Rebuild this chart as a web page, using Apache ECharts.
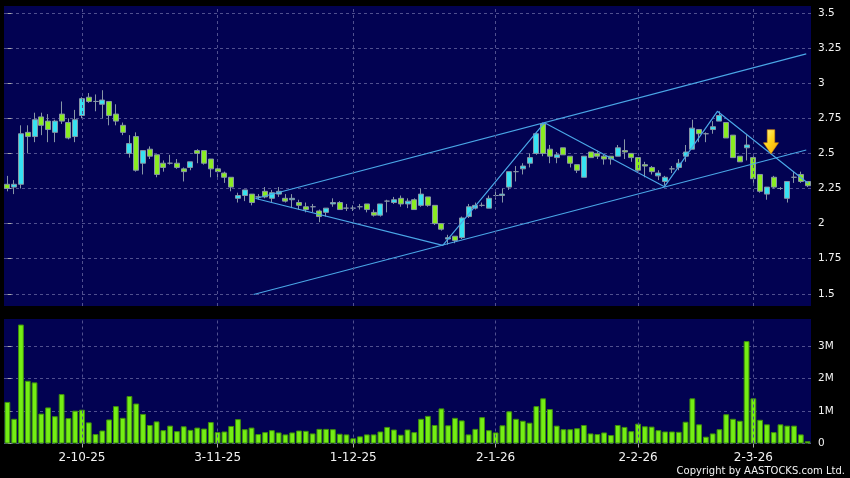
<!DOCTYPE html>
<html>
<head>
<meta charset="utf-8">
<script src="https://cdn.jsdelivr.net/npm/echarts@6/dist/echarts.min.js"></script>
<style>
html,body{margin:0;padding:0;background:#000;}
#c{width:850px;height:478px;}
</style>
</head>
<body>
<div id="c"></div>
<script>
// ---- data ----
const dates = [
 '16-9-25','17-9-25','18-9-25','19-9-25','22-9-25','23-9-25','24-9-25','25-9-25','26-9-25','29-9-25','30-9-25',
 '2-10-25','3-10-25','6-10-25','8-10-25','9-10-25','10-10-25','13-10-25','14-10-25','15-10-25','16-10-25','17-10-25','20-10-25','21-10-25','22-10-25','23-10-25','24-10-25','27-10-25','28-10-25','30-10-25','31-10-25',
 '3-11-25','4-11-25','5-11-25','6-11-25','7-11-25','10-11-25','11-11-25','12-11-25','13-11-25','14-11-25','17-11-25','18-11-25','19-11-25','20-11-25','21-11-25','24-11-25','25-11-25','26-11-25','27-11-25','28-11-25',
 '1-12-25','2-12-25','3-12-25','4-12-25','5-12-25','8-12-25','9-12-25','10-12-25','11-12-25','12-12-25','15-12-25','16-12-25','17-12-25','18-12-25','19-12-25','22-12-25','23-12-25','24-12-25','29-12-25','30-12-25','31-12-25',
 '2-1-26','5-1-26','6-1-26','7-1-26','8-1-26','9-1-26','12-1-26','13-1-26','14-1-26','15-1-26','16-1-26','19-1-26','20-1-26','21-1-26','22-1-26','23-1-26','26-1-26','27-1-26','28-1-26','29-1-26','30-1-26',
 '2-2-26','3-2-26','4-2-26','5-2-26','6-2-26','9-2-26','10-2-26','11-2-26','12-2-26','13-2-26','16-2-26','20-2-26','23-2-26','24-2-26','25-2-26','26-2-26','27-2-26',
 '2-3-26','3-3-26','4-3-26','5-3-26','6-3-26','9-3-26','10-3-26','11-3-26','12-3-26'
];
const tickLabels = ['2-10-25','3-11-25','1-12-25','2-1-26','2-2-26','2-3-26'];
const priceTicks = [1.5,1.75,2,2.25,2.5,2.75,3,3.25,3.5];
const volumeTicks = [0,1,2,3];

const opens  = [2.28,2.26,2.28,2.65,2.62,2.76,2.73,2.65,2.78,2.72,2.62,2.77,2.90,2.87,2.85,2.87,2.78,2.70,2.50,2.62,
 2.43,2.53,2.49,2.43,2.43,2.43,2.39,2.40,2.52,2.52,2.46,2.39,2.36,2.33,2.18,2.20,2.21,2.19,2.23,2.18,
 2.21,2.18,2.17,2.15,2.12,2.12,2.09,2.08,2.14,2.15,2.11,2.11,2.12,2.14,2.08,2.06,2.16,2.15,2.18,2.14,
 2.17,2.13,2.19,2.13,2.00,1.89,1.91,1.90,2.05,2.11,2.13,2.11,2.20,2.20,2.26,2.37,2.39,2.43,2.50,2.71,
 2.53,2.47,2.54,2.48,2.42,2.33,2.51,2.50,2.48,2.48,2.48,2.52,2.50,2.47,2.42,2.40,2.34,2.30,2.39,2.40,
 2.48,2.53,2.67,2.64,2.67,2.73,2.72,2.63,2.48,2.54,2.47,2.35,2.21,2.33,2.25,2.18,2.33,2.35,2.30];
const closes = [2.25,2.28,2.64,2.62,2.74,2.70,2.67,2.73,2.73,2.61,2.74,2.89,2.87,2.87,2.88,2.77,2.73,2.65,2.57,2.38,
 2.52,2.48,2.35,2.40,2.43,2.40,2.37,2.44,2.50,2.43,2.39,2.37,2.33,2.26,2.20,2.24,2.15,2.19,2.19,2.22,
 2.23,2.16,2.18,2.13,2.10,2.12,2.05,2.11,2.15,2.10,2.11,2.11,2.12,2.10,2.06,2.14,2.16,2.17,2.14,2.16,
 2.10,2.21,2.13,2.00,1.96,1.90,1.88,2.04,2.12,2.13,2.13,2.18,2.20,2.21,2.37,2.37,2.41,2.47,2.64,2.50,
 2.48,2.49,2.49,2.43,2.38,2.48,2.47,2.48,2.46,2.46,2.54,2.51,2.47,2.38,2.41,2.37,2.36,2.33,2.39,2.43,
 2.51,2.68,2.64,2.64,2.69,2.77,2.61,2.47,2.44,2.56,2.32,2.23,2.26,2.26,2.25,2.30,2.33,2.30,2.27];
const lows   = [2.23,2.21,2.25,2.50,2.58,2.63,2.58,2.58,2.71,2.60,2.58,2.75,2.86,2.80,2.75,2.70,2.70,2.63,2.47,2.37,
 2.35,2.46,2.33,2.37,2.42,2.39,2.30,2.38,2.43,2.42,2.33,2.33,2.29,2.23,2.15,2.16,2.13,2.17,2.18,2.15,
 2.19,2.15,2.11,2.10,2.08,2.08,2.01,2.05,2.12,2.10,2.09,2.09,2.10,2.08,2.05,2.05,2.08,2.14,2.12,2.11,
 2.10,2.12,2.12,1.99,1.95,1.85,1.86,1.89,2.04,2.10,2.12,2.11,2.17,2.15,2.24,2.30,2.35,2.40,2.49,2.48,
 2.43,2.43,2.49,2.40,2.36,2.33,2.47,2.46,2.42,2.42,2.48,2.46,2.44,2.37,2.33,2.35,2.31,2.27,2.36,2.38,
 2.44,2.53,2.58,2.58,2.64,2.73,2.61,2.47,2.44,2.45,2.29,2.22,2.17,2.25,2.24,2.15,2.29,2.29,2.26];
const highs  = [2.34,2.31,2.70,2.70,2.79,2.79,2.78,2.74,2.87,2.75,2.81,2.90,2.93,2.92,2.95,2.87,2.85,2.72,2.63,2.65,
 2.52,2.55,2.49,2.45,2.49,2.46,2.40,2.44,2.53,2.52,2.46,2.40,2.37,2.33,2.22,2.24,2.21,2.21,2.26,2.24,
 2.26,2.21,2.21,2.17,2.15,2.14,2.10,2.11,2.18,2.16,2.14,2.13,2.14,2.14,2.10,2.14,2.17,2.19,2.20,2.18,
 2.18,2.25,2.19,2.13,2.00,1.92,1.91,2.05,2.14,2.15,2.15,2.20,2.23,2.25,2.37,2.41,2.43,2.50,2.65,2.72,
 2.56,2.51,2.54,2.48,2.42,2.48,2.51,2.52,2.49,2.48,2.56,2.60,2.50,2.47,2.44,2.41,2.38,2.34,2.41,2.46,
 2.56,2.74,2.67,2.65,2.73,2.80,2.72,2.63,2.48,2.63,2.48,2.35,2.26,2.34,2.26,2.30,2.37,2.37,2.30];
// volume in millions of shares
const volumes = [1.28,0.76,3.66,1.93,1.88,0.92,1.11,0.84,1.52,0.78,1.01,1.04,0.65,0.29,0.40,0.74,1.15,0.79,1.46,1.23,
 0.91,0.57,0.68,0.41,0.55,0.38,0.53,0.42,0.49,0.46,0.66,0.35,0.37,0.54,0.75,0.44,0.49,0.29,0.35,0.41,
 0.34,0.28,0.34,0.40,0.39,0.31,0.45,0.45,0.44,0.30,0.28,0.16,0.22,0.28,0.28,0.37,0.51,0.43,0.27,0.43,
 0.35,0.76,0.85,0.57,1.08,0.56,0.79,0.71,0.28,0.45,0.81,0.41,0.34,0.56,0.99,0.76,0.70,0.64,1.15,1.39,
 1.06,0.55,0.44,0.44,0.47,0.57,0.31,0.29,0.34,0.26,0.57,0.51,0.38,0.61,0.53,0.52,0.41,0.37,0.37,0.36,
 0.67,1.39,0.59,0.21,0.31,0.44,0.90,0.76,0.70,3.15,1.39,0.73,0.59,0.35,0.59,0.55,0.55,0.28,0.07];

// trend lines drawn on the chart: [category position, price]
const channelUpper = [[36.6,2.179],[117.8,3.209]];
const channelLower = [[36.3,1.495],[117.8,2.524]];
const zigzag = [[36.6,2.179],[64.2,1.845],[79.2,2.719],[96.9,2.263],[104.7,2.80],[118.1,2.286]];
const signalArrow = [[112.6,2.583]];

// ---- chart ----
const chart = echarts.init(document.getElementById('c'), null, {renderer:'canvas'});
const FONT = 'DejaVu Sans';
const navy = '#020252';
const gridCol = '#50508f';
const txt = '#f2f2f2';
const tickIdx = tickLabels.map(t => dates.indexOf(t));
const isTick = i => tickIdx.indexOf(i) >= 0;
const n = dates.length;
const ohlc = opens.map((o,i)=>[o, closes[i], lows[i], highs[i]]);

const vLines = tickIdx.map(i => ({xAxis: i}));
const vLineStyle = {color: gridCol, type: [3,3], width: 1};

chart.setOption({
  backgroundColor: '#000',
  animation: false,
  textStyle: {fontFamily: FONT},
  grid: [
    {left: 4, right: 39, top: 6, height: 300, show: true, backgroundColor: navy, borderWidth: 0},
    {left: 4, right: 39, top: 319, height: 124.5, show: true, backgroundColor: navy, borderWidth: 0}
  ],
  xAxis: [
    {type:'category', gridIndex:0, data: dates, boundaryGap: true,
     axisLine:{show:false}, axisTick:{show:false}, axisLabel:{show:false}, splitLine:{show:false}},
    {type:'category', gridIndex:1, data: dates, boundaryGap: true,
     axisLine:{show:false},
     axisTick:{show:true, alignWithLabel:true, length:4, interval:(i)=>isTick(i), lineStyle:{color:'#aaaaaa'}},
     axisLabel:{show:true, interval:(i)=>isTick(i), color: txt, fontSize: 12, margin: 8, fontFamily: FONT},
     splitLine:{show:false}},
    {type:'value', gridIndex:0, min:-0.5, max:n-0.5, show:false},
    {type:'value', gridIndex:1, min:-0.5, max:n-0.5, show:false}
  ],
  yAxis: [
    {type:'value', gridIndex:0, position:'right', min:1.413, max:3.55, offset: 2,
     axisLine:{show:false},
     axisTick:{show:true, length:4, customValues: priceTicks, lineStyle:{color:'#aaaaaa'}},
     axisLabel:{show:true, customValues: priceTicks, color: txt, fontSize: 10.5, margin: 5, fontFamily: FONT,
       formatter: v => String(v)},
     splitLine:{show:true, lineStyle:{color: gridCol, type:[3,3], width:1}}},
    {type:'value', gridIndex:1, position:'right', min:0, max:3.83, offset: 2,
     axisLine:{show:false},
     axisTick:{show:true, length:4, customValues: volumeTicks, lineStyle:{color:'#aaaaaa'}},
     axisLabel:{show:true, customValues: volumeTicks, color: txt, fontSize: 10.5, margin: 5, fontFamily: FONT,
       formatter: v => v === 0 ? '0' : v + 'M'},
     splitLine:{show:true, lineStyle:{color: gridCol, type:[3,3], width:1}}}
  ],
  series: [
    {type:'line', xAxisIndex:2, yAxisIndex:0, data:[], silent:true,
     markLine:{silent:true, symbol:'none', label:{show:false}, lineStyle: vLineStyle, data: vLines}},
    {type:'line', xAxisIndex:3, yAxisIndex:1, data:[], silent:true,
     markLine:{silent:true, symbol:'none', label:{show:false}, lineStyle: vLineStyle, data: vLines}},
    {type:'candlestick', xAxisIndex:0, yAxisIndex:0, data: ohlc, barWidth: 5.5,
     itemStyle:{color:'#36e2f2', color0:'#8aec22', borderColor:'#8796a6', borderColor0:'#8796a6', borderWidth:1}},
    {type:'bar', xAxisIndex:1, yAxisIndex:1, data: volumes, barWidth: 5.8,
     itemStyle:{color:'#74ee14', borderColor:'#3f8f0c', borderWidth:1}},
    {type:'line', xAxisIndex:2, yAxisIndex:0, data: channelUpper, symbol:'none', silent:true,
     lineStyle:{color:'#4aa6e6', width:1.2}},
    {type:'line', xAxisIndex:2, yAxisIndex:0, data: channelLower, symbol:'none', silent:true,
     lineStyle:{color:'#4aa6e6', width:1.2}},
    {type:'line', xAxisIndex:2, yAxisIndex:0, data: zigzag, symbol:'none', silent:true,
     lineStyle:{color:'#4aa6e6', width:1.2}},
    {type:'scatter', xAxisIndex:2, yAxisIndex:0, data: signalArrow, silent:true, z: 10,
     symbol:'path://M4,0 L12,0 L12,13 L16,13 L8,24 L0,13 L4,13 Z', symbolSize:[15,24],
     itemStyle:{opacity: 1, borderColor:'#e0900a', borderWidth: 0.6,
       color: new echarts.graphic.LinearGradient(0,0,1,1,[{offset:0,color:'#fff7a0'},{offset:0.45,color:'#ffd61e'},{offset:1,color:'#f5a400'}])}}
  ],
  graphic: [
    {type:'text', right: 5, top: 466, style:{text:'Copyright by AASTOCKS.com Ltd.', fill: txt, font: '10px "DejaVu Sans"'}}
  ]
});
</script>
</body>
</html>
